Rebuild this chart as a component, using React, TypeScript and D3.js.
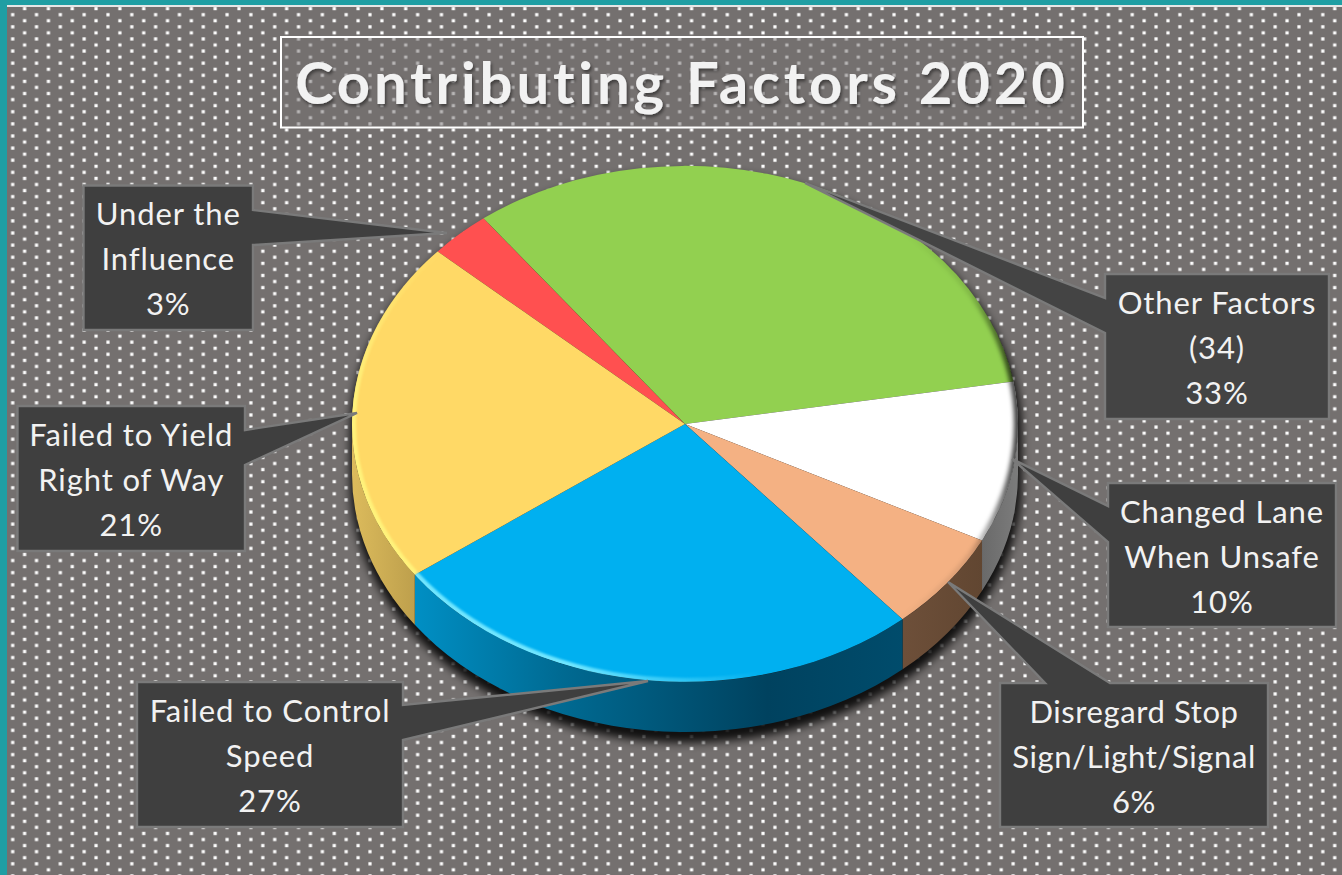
import React from 'react';
import * as d3 from 'd3';

const titleText = 'Contributing Factors 2020';
const categories = ['Under the Influence', 'Other Factors (34)', 'Changed Lane When Unsafe', 'Disregard Stop Sign/Light/Signal', 'Failed to Control Speed', 'Failed to Yield Right of Way'];
// slice shares (the printed labels are rounded)
const values = [3.0, 32.7, 10.1, 6.2, 26.4, 21.6];
const topColors = ['#ff5050', '#92d050', '#ffffff', '#f4b183', '#00b0f0', '#ffd966'];
const labelLines = [
  ['Under the', 'Influence', '3%'],
  ['Other Factors', '(34)', '33%'],
  ['Changed Lane', 'When Unsafe', '10%'],
  ['Disregard Stop', 'Sign/Light/Signal', '6%'],
  ['Failed to Control', 'Speed', '27%'],
  ['Failed to Yield', 'Right of Way', '21%'],
];
// callout layout: box [x0,y0,x1,y1], tip [x,y], base on the box edge
const boxes = [
  [83.5, 185.5, 253, 330], [1105, 274, 1329, 419], [1108, 483, 1336, 627],
  [1000, 683, 1268, 827], [137, 682, 403, 827], [17.5, 406, 245, 551],
];
const tips = [[447, 233], [805, 183], [1012, 459], [948, 582], [648, 681], [357, 413]];
const bases: [string, number, number][] = [
  ['right', 210, 245], ['left', 298, 333], ['left', 506, 542],
  ['top', 1045, 1110], ['right', 705, 740], ['right', 430, 465],
];

const W = 1342, H = 875;
const cx = 685, cy = 424, rx = 333, ry = 258, depth = 50;
const startDeg = -48;

const slices = d3.pie<number>().sort(null)
  .startAngle((startDeg * Math.PI) / 180)
  .endAngle((startDeg * Math.PI) / 180 + 2 * Math.PI)(values);
const arcGen = d3.arc<d3.PieArcDatum<number>>().innerRadius(0).outerRadius(1);

const pt = (t: number, dy = 0) => [cx + rx * Math.sin(t), cy - ry * Math.cos(t) + dy];
const ell = (a: number, b: number, dy: number, sweep: number) => {
  const [x, y] = sweep ? pt(b, dy) : pt(a, dy);
  return `A${rx} ${ry} 0 ${Math.abs(b - a) > Math.PI ? 1 : 0} ${sweep} ${x} ${y}`;
};
const wallPath = (a: number, b: number) => {
  const p0 = pt(a), p1 = pt(b, depth);
  return `M${p0[0]} ${p0[1]}${ell(a, b, 0, 1)}L${p1[0]} ${p1[1]}${ell(a, b, depth, 0)}Z`;
};
const rimPath = (a: number, b: number) => {
  const p0 = pt(a);
  return `M${p0[0]} ${p0[1]}${ell(a, b, 0, 1)}`;
};
const lo = Math.PI / 2, hi = (3 * Math.PI) / 2;
const silhouette = `M${cx - rx} ${cy}A${rx} ${ry} 0 0 1 ${cx + rx} ${cy}L${cx + rx} ${cy + depth}A${rx} ${ry} 0 0 1 ${cx - rx} ${cy + depth}Z`;

const wallFills = ['none', 'none', 'url(#wWhite)', 'url(#wPeach)', 'url(#wBlue)', 'url(#wYellow)'];
const rimStrokes = ['none', 'none', 'none', 'none', 'url(#rBlue)', 'url(#rYellow)'];

const calloutPath = (i: number) => {
  const [x0, y0, x1, y1] = boxes[i];
  const [tx, ty] = tips[i];
  const [side, s0, s1] = bases[i];
  if (side === 'right') return `M${x0} ${y0}H${x1}V${s0}L${tx} ${ty}L${x1} ${s1}V${y1}H${x0}Z`;
  if (side === 'left') return `M${x0} ${y0}H${x1}V${y1}H${x0}V${s1}L${tx} ${ty}L${x0} ${s0}Z`;
  return `M${x0} ${y0}H${s0}L${tx} ${ty}L${s1} ${y0}H${x1}V${y1}H${x0}Z`;
};

const d = 3.2;

export default function App() {
  return (
    <svg width={W} height={H} viewBox={`0 0 ${W} ${H}`} style={{ position: 'fixed', left: 0, top: 0, display: 'block' }}>
      <defs>
        <pattern id="dots" patternUnits="userSpaceOnUse" width={23.82} height={12.13} patternTransform="translate(12.7 2.55)">
          <rect x={-d / 2} y={-d / 2} width={d} height={d} fill="#fff" />
          <rect x={23.82 - d / 2} y={-d / 2} width={d} height={d} fill="#fff" />
          <rect x={-d / 2} y={12.13 - d / 2} width={d} height={d} fill="#fff" />
          <rect x={23.82 - d / 2} y={12.13 - d / 2} width={d} height={d} fill="#fff" />
          <rect x={11.91 - d / 2} y={6.07 - d / 2} width={d} height={d} fill="#fff" />
        </pattern>
        <clipPath id="topClip"><ellipse cx={cx} cy={cy} rx={rx} ry={ry} /></clipPath>
        <filter id="blurS" x="-20%" y="-20%" width="140%" height="140%"><feGaussianBlur stdDeviation={5} /></filter>
        <filter id="blurR" filterUnits="userSpaceOnUse" x={0} y={0} width={W} height={H}><feGaussianBlur stdDeviation={1} /></filter>
        <filter id="blurD" filterUnits="userSpaceOnUse" x={0} y={0} width={W} height={H}><feGaussianBlur stdDeviation={2} /></filter>
        <filter id="tShadow" x="-5%" y="-20%" width="110%" height="150%">
          <feDropShadow dx={1.5} dy={2.5} stdDeviation={1.5} floodColor="#000" floodOpacity={0.45} />
        </filter>
        <linearGradient id="wBlue" gradientUnits="userSpaceOnUse" x1={415} x2={905} y1={0} y2={0}>
          <stop offset="0" stopColor="#008fc4" />
          <stop offset="0.3" stopColor="#006a92" />
          <stop offset="0.72" stopColor="#00425f" />
          <stop offset="1" stopColor="#004c6c" />
        </linearGradient>
        <linearGradient id="wYellow" gradientUnits="userSpaceOnUse" x1={352} x2={416} y1={0} y2={0}>
          <stop offset="0" stopColor="#dcbb5c" />
          <stop offset="1" stopColor="#bd9f4c" />
        </linearGradient>
        <linearGradient id="wPeach" gradientUnits="userSpaceOnUse" x1={905} x2={983} y1={0} y2={0}>
          <stop offset="0" stopColor="#6d4f39" />
          <stop offset="1" stopColor="#614631" />
        </linearGradient>
        <linearGradient id="wWhite" gradientUnits="userSpaceOnUse" x1={983} x2={1018} y1={0} y2={0}>
          <stop offset="0" stopColor="#6a6a6a" />
          <stop offset="1" stopColor="#7c7c7c" />
        </linearGradient>
        <linearGradient id="rBlue" gradientUnits="userSpaceOnUse" x1={415} x2={760} y1={0} y2={0}>
          <stop offset="0" stopColor="#6fe6ff" />
          <stop offset="0.45" stopColor="#6fe6ff" />
          <stop offset="1" stopColor="#6fe6ff" stopOpacity={0} />
        </linearGradient>
        <linearGradient id="rYellow" gradientUnits="userSpaceOnUse" x1={0} x2={0} y1={250} y2={400}>
          <stop offset="0" stopColor="#fff27a" stopOpacity={0} />
          <stop offset="1" stopColor="#fff27a" />
        </linearGradient>
        <linearGradient id="rShade" gradientUnits="userSpaceOnUse" x1={900} x2={1018} y1={0} y2={0}>
          <stop offset="0" stopColor="#000" stopOpacity={0} />
          <stop offset="0.6" stopColor="#000" stopOpacity={0.12} />
          <stop offset="1" stopColor="#000" stopOpacity={0.75} />
        </linearGradient>
      </defs>

      <rect width={W} height={H} fill="#74706f" />
      <rect width={W} height={H} fill="url(#dots)" />
      <rect x={0} y={0} width={W} height={5} fill="#1f9ea3" />
      <rect x={7} y={5} width={W} height={2} fill="#e6e6e6" />
      <rect x={0} y={0} width={7} height={H} fill="#1f9ea3" />

      <rect x={281} y={37} width={802} height={90.5} fill="#74706f" fillOpacity={0.5} stroke="#ffffff" strokeWidth={2} />
      <text x={682} y={104} textAnchor="middle" fontFamily="Lato" fontWeight={700} fontSize={58} letterSpacing={3.85} fill="#f2f2f2" filter="url(#tShadow)">{titleText}</text>

      <path d={silhouette} transform="translate(1 8)" fill="#000" stroke="#000" strokeWidth={5} fillOpacity={0.85} strokeOpacity={0.85} filter="url(#blurS)" />

      {slices.map((s, i) => {
        const a = Math.max(s.startAngle, lo), b = Math.min(s.endAngle, hi);
        return b > a ? <path key={categories[i]} d={wallPath(a, b)} fill={wallFills[i]} /> : null;
      })}

      <g transform={`translate(${cx} ${cy}) scale(${rx} ${ry})`}>
        {slices.map((s, i) => (
          <path key={categories[i]} d={arcGen(s) as string} fill={topColors[i]} />
        ))}
      </g>

      <g clipPath="url(#topClip)">
        {slices.map((s, i) => rimStrokes[i] === 'none' ? null : (
          <path key={categories[i]} d={rimPath(s.startAngle, s.endAngle)} fill="none" stroke={rimStrokes[i]} strokeWidth={8} filter="url(#blurR)" />
        ))}
        <ellipse cx={cx} cy={cy} rx={rx} ry={ry} fill="none" stroke="url(#rShade)" strokeWidth={8} filter="url(#blurD)" />
      </g>

      {boxes.map((_, i) => (
        <path key={categories[i]} d={calloutPath(i)} fill={i === 1 ? '#444444' : '#3f3f3f'} stroke="#7a7a7a" strokeWidth={2.4} strokeLinejoin="miter" />
      ))}
      {labelLines.map((lines, i) => lines.map((t, j) => (
        <text key={t} x={(boxes[i][0] + boxes[i][2]) / 2} y={boxes[i][1] + 39.5 + j * 45} textAnchor="middle" fontFamily="Lato" fontSize={31} letterSpacing={i === 3 ? 0.6 : 0.9} fill="#f2f2f2">{t}</text>
      )))}
    </svg>
  );
}
